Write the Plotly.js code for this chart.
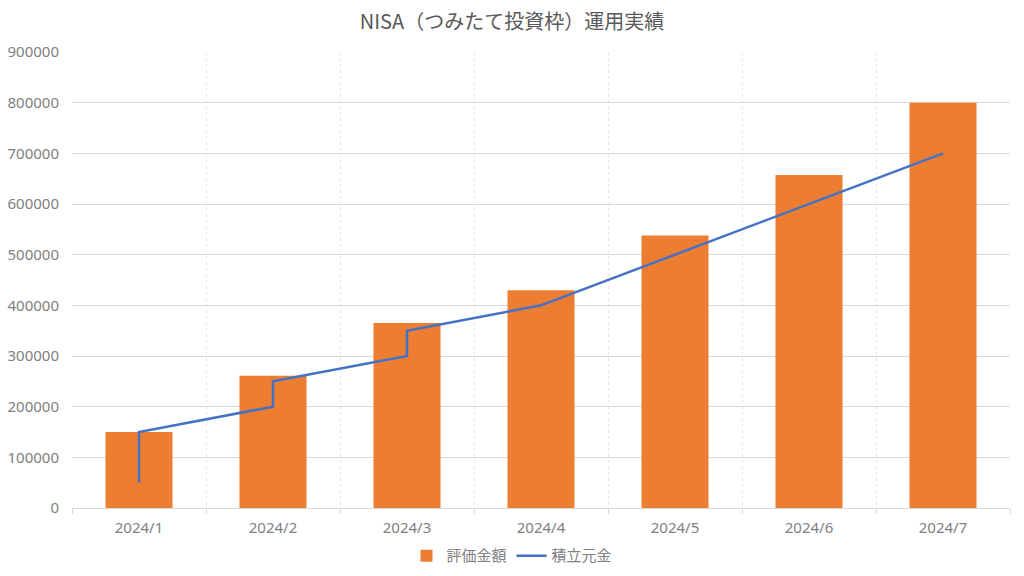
<!DOCTYPE html>
<html>
<head>
<meta charset="utf-8">
<script src="https://cdn.plot.ly/plotly-3.0.1.min.js"></script>
<style>html,body{margin:0;padding:0;background:#fff;}#chart{width:1024px;height:576px;}</style>
</head>
<body>
<div id="chart"></div>
<script>
const categories = ['2024/1','2024/2','2024/3','2024/4','2024/5','2024/6','2024/7'];
const valuation = [150000, 261000, 365000, 430000, 538000, 657000, 800000];
const principalX = ['2024/1','2024/1','2024/2','2024/2','2024/3','2024/3','2024/4','2024/5','2024/6','2024/7'];
const principalY = [50000, 150000, 200000, 250000, 300000, 350000, 400000, 500000, 600000, 700000];

const font = 'Noto Sans CJK JP, Noto Sans, sans-serif';
const tickFont = 'Noto Sans, Noto Sans CJK JP, sans-serif';
const traces = [
  {type:'bar', name:'評価金額', x:categories, y:valuation, marker:{color:'#ED7D31'}},
  {type:'scatter', mode:'lines', name:'積立元金', x:principalX, y:principalY, line:{color:'#4472C4', width:2.5}}
];
const layout = {
  width:1024, height:576,
  margin:{l:72, r:14, t:52, b:68, autoexpand:false},
  paper_bgcolor:'#fff', plot_bgcolor:'#fff',
  font:{family:font, color:'#808080', size:15},
  title:{text:'NISA（つみたて投資枠）運用実績', x:0.5, xanchor:'center', y:0.962, yanchor:'middle', font:{size:20, color:'#595959', family:font}},
  bargap:0.5,
  xaxis:{type:'category', categoryorder:'array', categoryarray:categories, tickson:'boundaries',
         showgrid:true, gridcolor:'#e6e6e6', griddash:'dot', showline:true, linecolor:'#d9d9d9', linewidth:1,
         ticks:'outside', ticklen:5, tickcolor:'#d9d9d9', tickfont:{size:15, color:'#808080', family:tickFont}, ticklabelstandoff:6, zeroline:false},
  yaxis:{range:[0,900000], dtick:100000, tickformat:'d', showgrid:true, gridcolor:'#d9d9d9', zeroline:false,
         showline:false, tickfont:{size:15, color:'#808080', family:tickFont}, ticklabelstandoff:12},
  showlegend:true,
  legend:{orientation:'h', xref:'container', x:0.5, xanchor:'center', y:-0.105, yanchor:'middle', font:{size:15, color:'#808080', family:font}, traceorder:'normal', itemwidth:30},
};
Plotly.newPlot('chart', traces, layout, {displayModeBar:false, staticPlot:true});
</script>
</body>
</html>
